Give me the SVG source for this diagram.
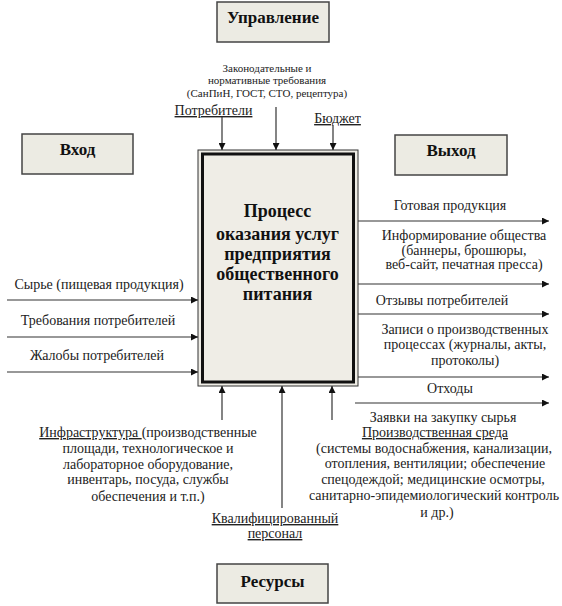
<svg xmlns="http://www.w3.org/2000/svg" width="562" height="606" viewBox="0 0 562 606" font-family="'Liberation Serif', serif">
<defs>
<marker id="ah" viewBox="0 0 10 10" refX="10" refY="5" markerWidth="7" markerHeight="7" markerUnits="userSpaceOnUse" orient="auto">
<path d="M0,0 L10,5 L0,10 Z" fill="#111"/>
</marker>
</defs>
<style>
text{font-family:'Liberation Serif',serif;fill:#222;}
.hdr rect{fill:#ecebe3;stroke:#444;stroke-width:1.5;}
.hdr text{font-size:17px;font-weight:bold;text-anchor:middle;fill:#111;}
.lbl{font-size:14px;text-anchor:middle;}
.sm{font-size:11px;text-anchor:middle;}
.u{text-decoration:underline;}
.conn line{stroke:#333;stroke-width:1.2;marker-end:url(#ah);}
.main text{font-size:18px;font-weight:bold;text-anchor:middle;fill:#111;}
</style>
<rect width="562" height="606" fill="#ffffff"/>

<g id="upravlenie" class="hdr">
<rect x="217" y="2" width="112" height="40"/>
<text x="273" y="23">Управление</text>
</g>
<g id="vhod" class="hdr">
<rect x="22" y="134" width="111" height="40"/>
<text x="77.5" y="155">Вход</text>
</g>
<g id="vyhod" class="hdr">
<rect x="395" y="135" width="112" height="40"/>
<text x="451" y="156">Выход</text>
</g>
<g id="resursy" class="hdr">
<rect x="217" y="564" width="111" height="39"/>
<text x="272.5" y="587">Ресурсы</text>
</g>

<g id="process" class="main">
<rect x="198" y="150" width="160" height="236" fill="#efede6" stroke="#333" stroke-width="1"/>
<rect x="202.5" y="154" width="151" height="228" fill="#efede6" stroke="#111" stroke-width="3"/>
<text x="277.5" y="217">Процесс</text>
<text x="277.5" y="240">оказания услуг</text>
<text x="277.5" y="260">предприятия</text>
<text x="277.5" y="280">общественного</text>
<text x="277.5" y="300">питания</text>
</g>

<g id="connectors" class="conn">
<line x1="222" y1="117" x2="222" y2="150"/>
<line x1="276" y1="107" x2="276" y2="150"/>
<line x1="333" y1="125" x2="333" y2="150"/>
<line x1="7" y1="300" x2="198" y2="300"/>
<line x1="7" y1="337" x2="198" y2="337"/>
<line x1="7" y1="372" x2="198" y2="372"/>
<line x1="358" y1="221" x2="549" y2="221"/>
<line x1="358" y1="284" x2="549" y2="284"/>
<line x1="358" y1="314" x2="549" y2="314"/>
<line x1="358" y1="377" x2="549" y2="377"/>
<line x1="355" y1="403" x2="549" y2="403"/>
<line x1="222" y1="420" x2="222" y2="386"/>
<line x1="282" y1="508" x2="282" y2="386"/>
<line x1="332" y1="420" x2="332" y2="386"/>
</g>

<g id="control-labels">
<text class="sm" x="267" y="72">Законодательные и</text>
<text class="sm" x="267" y="84">нормативные требования</text>
<text class="sm" x="267" y="97">(СанПиН, ГОСТ, СТО, рецептура)</text>
<text class="lbl u" x="213.5" y="115">Потребители</text>
<text class="lbl u" x="337.5" y="123">Бюджет</text>
</g>

<g id="input-labels">
<text class="lbl" x="99" y="289">Сырье (пищевая продукция)</text>
<text class="lbl" x="98" y="325">Требования потребителей</text>
<text class="lbl" x="97" y="360">Жалобы потребителей</text>
</g>

<g id="output-labels">
<text class="lbl" x="450" y="210">Готовая продукция</text>
<text class="lbl" x="464" y="240">Информирование общества</text>
<text class="lbl" x="464" y="255">(баннеры, брошюры,</text>
<text class="lbl" x="464" y="269">веб-сайт, печатная пресса)</text>
<text class="lbl" x="442" y="305">Отзывы потребителей</text>
<text class="lbl" x="465" y="334">Записи о производственных</text>
<text class="lbl" x="465" y="349">процессах (журналы, акты,</text>
<text class="lbl" x="465" y="365">протоколы)</text>
<text class="lbl" x="450" y="393">Отходы</text>
</g>

<g id="resource-labels">
<text class="lbl" x="148" y="437"><tspan class="u">Инфраструктура </tspan>(производственные</text>
<text class="lbl" x="148" y="453">площади, технологическое и</text>
<text class="lbl" x="148" y="469">лабораторное оборудование,</text>
<text class="lbl" x="148" y="484">инвентарь, посуда, службы</text>
<text class="lbl" x="148" y="501">обеспечения и т.п.)</text>
<text class="lbl u" x="275" y="523">Квалифицированный</text>
<text class="lbl u" x="275" y="538">персонал</text>
<text class="lbl" x="443" y="422">Заявки на закупку сырья</text>
<text class="lbl u" x="435" y="437">Производственная среда</text>
<text class="lbl" x="434" y="453">(системы водоснабжения, канализации,</text>
<text class="lbl" x="435" y="468">отопления, вентиляции; обеспечение</text>
<text class="lbl" x="433" y="484">спецодеждой; медицинские осмотры,</text>
<text class="lbl" x="434" y="500">санитарно-эпидемиологический контроль</text>
<text class="lbl" x="437" y="517">и др.)</text>
</g>
</svg>
